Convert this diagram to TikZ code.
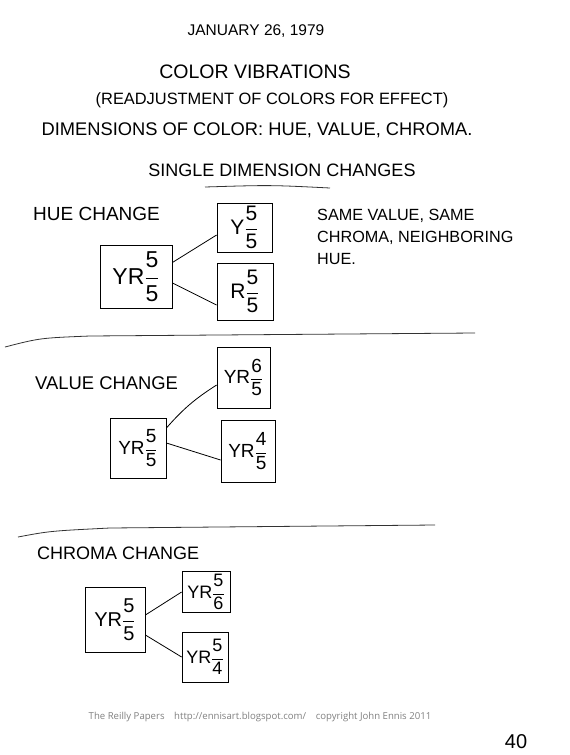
\documentclass[tikz,border=0pt]{standalone}
\usepackage{fontspec}
\setmainfont{Liberation Sans}
\newfontfamily\footfont{Open Sans}
\usetikzlibrary{positioning}

\newcommand{\mfrac}[2]{$\displaystyle\frac{\mbox{#1}}{\mbox{#2}}$}

\begin{document}
\begin{tikzpicture}[
    x=1pt, y=-1pt,
    hand/.style={inner sep=0pt, font=\fontsize{#1}{#1}\selectfont},
    hand/.default=16,
    mbox/.style={rectangle, draw, thick, inner sep=1pt, font=\fontsize{#1}{#1}\selectfont},
    mbox/.default=21,
    link/.style={thick},
    rule/.style={thick, black!80}
]
\useasboundingbox (0,0) rectangle (570,755);

% heading
\node[hand=15.5] (date) at (256,31) {JANUARY 26, 1979};
\node[hand=19.5] (title) at (255,72) {COLOR VIBRATIONS};
\node[hand=16.4] (sub) at (272,100) {(READJUSTMENT OF COLORS FOR EFFECT)};
\node[hand=18.3] (dims) at (257,130) {DIMENSIONS OF COLOR: HUE, VALUE, CHROMA.};
\node[hand=18] (single) at (282,170) {SINGLE DIMENSION CHANGES};
\draw[rule] (205,187) .. controls (270,185) .. (330,188);

% hue change
\node[hand=19, anchor=west] (hue) at (33,214) {HUE CHANGE};
\node[mbox=23, minimum width=72, minimum height=63] (yrA) at (136,276.5) {YR\mfrac{5}{5}};
\node[mbox, minimum width=55, minimum height=49] (yA) at (244.5,227.5) {Y\mfrac{5}{5}};
\node[mbox, minimum width=56, minimum height=57] (rA) at (245,291.5) {R\mfrac{5}{5}};
\draw[link] ([yshift=14pt]yrA.east) -- ([yshift=-7.5pt]yA.west);
\draw[link] ([yshift=-6.5pt]yrA.east) -- ([yshift=-13.5pt]rA.west);
\node[hand=16.2, anchor=north west, align=left] (note) at (317,209)
    {SAME VALUE, SAME\\[6pt]CHROMA, NEIGHBORING\\[6pt]HUE.};

\draw[rule] (5,347) .. controls (40,338) .. (90,336) -- (475,333);

% value change
\node[hand=18.4, anchor=west] (value) at (35,383) {VALUE CHANGE};
\node[mbox=19, minimum width=56, minimum height=60] (yrB) at (138,448) {YR\mfrac{5}{5}};
\node[mbox=19, minimum width=53, minimum height=61] (yrB6) at (243.5,377.5) {YR\mfrac{6}{5}};
\node[mbox=19, minimum width=54, minimum height=62] (yrB4) at (248,451) {YR\mfrac{4}{5}};
\draw[link] ([yshift=20pt]yrB.east) to[bend left=8] ([yshift=-7.5pt]yrB6.west);
\draw[link] ([yshift=5pt]yrB.east) -- ([yshift=-9pt]yrB4.west);

\draw[rule] (18,537) .. controls (50,531) .. (110,528) -- (435,525);

% chroma change
\node[hand=18, anchor=west] (chroma) at (37,553) {CHROMA CHANGE};
\node[mbox=20, minimum width=60, minimum height=65] (yrC) at (115,619.5) {YR\mfrac{5}{5}};
\node[mbox=18, minimum width=48, minimum height=41] (yrC6) at (206,592) {YR\mfrac{5}{6}};
\node[mbox=18, minimum width=46, minimum height=50] (yrC4) at (205,657) {YR\mfrac{5}{4}};
\draw[link] ([yshift=4.5pt]yrC.east) -- (yrC6.west);
\draw[link] ([yshift=-15.5pt]yrC.east) -- (yrC4.west);

% footer
\node[inner sep=0pt, text=black!50, font=\footfont\fontsize{9.6}{10}\selectfont] (foot) at (260,717)
    {The Reilly Papers\quad http://ennisart.blogspot.com/\quad copyright John Ennis 2011};
\node[hand=20] (page) at (516,742) {40};
\end{tikzpicture}
\end{document}
